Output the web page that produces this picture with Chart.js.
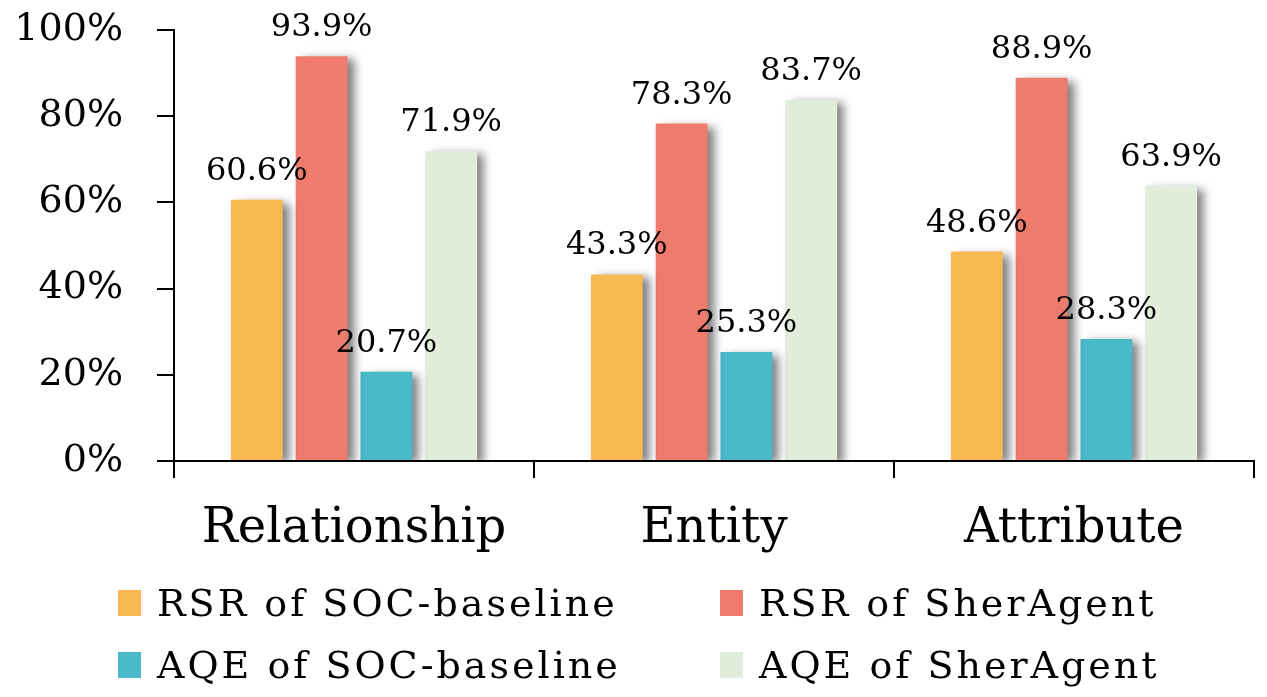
<!DOCTYPE html>
<html>
<head>
<meta charset="utf-8">
<script src="https://cdn.jsdelivr.net/npm/chart.js@4.4.0/dist/chart.umd.min.js"></script>
<style>
  html, body { margin: 0; padding: 0; background: #fff; }
  #wrap { position: relative; width: 1267px; height: 697px; }
  #legend { position: absolute; left: 0; top: 0; width: 1267px; height: 697px; pointer-events: none;
    font-family: "DejaVu Serif", "Liberation Serif", serif; font-size: 38px; letter-spacing: 3px; color: #000; }
  .item { position: absolute; display: flex; align-items: center; white-space: nowrap; }
  .box { width: 23px; height: 26px; margin-right: 16px; }
</style>
</head>
<body>
<div id="wrap">
  <canvas id="chart" width="1267" height="697"></canvas>
  <div id="legend"></div>
</div>
<script>
// data
const categories = ['Relationship', 'Entity', 'Attribute'];
const rsrBaseline = [60.6, 43.3, 48.6];
const rsrSher = [93.9, 78.3, 88.9];
const aqeBaseline = [20.7, 25.3, 28.3];
const aqeSher = [71.9, 83.7, 63.9];
const seriesNames = ['RSR of SOC-baseline', 'RSR of SherAgent', 'AQE of SOC-baseline', 'AQE of SherAgent'];
const seriesColors = ['#F9B952', '#EE7B6B', '#4ABACB', '#E1ECDA'];
const yTicks = [0, 20, 40, 60, 80, 100];

const FONT = '"DejaVu Serif", "Liberation Serif", serif';

// drop shadow behind bars
const barShadow = {
  id: 'barShadow',
  beforeDatasetsDraw(chart) {
    const c = chart.ctx;
    c.save();
    c.shadowColor = 'rgba(0,0,0,0.5)';
    c.shadowBlur = 9;
    c.shadowOffsetX = 7;
    c.shadowOffsetY = 3;
  },
  afterDatasetsDraw(chart) {
    chart.ctx.restore();
  }
};

// value labels on top of bars
const valueLabels = {
  id: 'valueLabels',
  afterDatasetsDraw(chart) {
    const c = chart.ctx;
    c.save();
    c.font = '32px ' + FONT;
    c.fillStyle = '#000';
    c.textAlign = 'center';
    c.textBaseline = 'alphabetic';
    chart.data.datasets.forEach((ds, i) => {
      chart.getDatasetMeta(i).data.forEach((bar, j) => {
        c.fillText(ds.data[j].toFixed(1) + '%', bar.x, bar.y - 20);
      });
    });
    c.restore();
  }
};

const ctx = document.getElementById('chart').getContext('2d');
const allSeries = [rsrBaseline, rsrSher, aqeBaseline, aqeSher];

const chart = new Chart(ctx, {
  type: 'bar',
  data: {
    labels: categories,
    datasets: allSeries.map((d, i) => ({
      label: seriesNames[i],
      data: d,
      backgroundColor: seriesColors[i],
      categoryPercentage: 0.72,
      barPercentage: 0.8
    }))
  },
  options: {
    responsive: false,
    animation: false,
    layout: { padding: { top: 30, right: 13, left: 0, bottom: 0 } },
    plugins: {
      legend: { display: false },
      tooltip: { enabled: false }
    },
    scales: {
      y: {
        min: 0,
        max: 100,
        afterFit(scale) {
          scale.width = 174;
          scale.paddingTop = 0;
          scale.paddingBottom = 0;
        },
        afterBuildTicks(scale) { scale.ticks = yTicks.map(v => ({ value: v })); },
        ticks: {
          font: { family: FONT, size: 38 },
          color: '#000',
          padding: 34,
          callback: v => v + '%'
        },
        grid: { drawOnChartArea: false, tickLength: 17, color: '#000', lineWidth: 2 },
        border: { color: '#000', width: 2 }
      },
      x: {
        afterFit(scale) { scale.height = 236; },
        ticks: {
          font: { family: FONT, size: 48 },
          color: '#000',
          padding: 23
        },
        grid: { drawOnChartArea: false, tickLength: 17, color: '#000', lineWidth: 2, offset: true },
        border: { color: '#000', width: 2 }
      }
    }
  },
  plugins: [barShadow, valueLabels]
});

// legend in two columns under the chart
const legend = document.getElementById('legend');
const legendPos = [[118, 581], [720, 581], [118, 643], [720, 643]];
chart.data.datasets.forEach((ds, i) => {
  const item = document.createElement('div');
  item.className = 'item';
  item.style.left = legendPos[i][0] + 'px';
  item.style.top = legendPos[i][1] + 'px';
  item.innerHTML = '<span class="box" style="background:' + ds.backgroundColor + '"></span><span>' + ds.label + '</span>';
  legend.appendChild(item);
});
</script>
</body>
</html>
